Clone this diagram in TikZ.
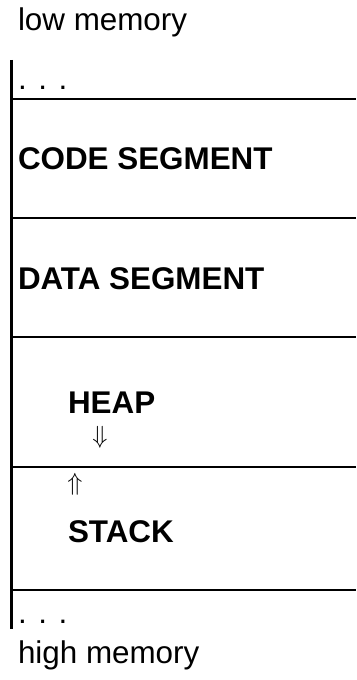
\documentclass[tikz,border=0pt]{standalone}
\usepackage{fontspec}
\setmainfont{Liberation Sans}
\usetikzlibrary{positioning}
\tikzset{
  every node/.append style={inner sep=0pt, outer sep=0pt},
  memtext/.style={anchor=base west, font=\fontsize{31.5}{36}\selectfont},
  segtext/.style={memtext, font=\fontsize{31.5}{36}\selectfont\bfseries},
  growarrow/.style={font=\fontsize{27}{30}\selectfont},
  divider/.style={line width=2bp},
  spine/.style={line width=3bp}
}

\begin{document}
\begin{tikzpicture}[x=1bp, y=-1bp]
\useasboundingbox (0,0) rectangle (356,680);

% Memory column
\draw[spine] (11,60) -- (11,629);
\foreach \y in {99,218,337,467,590}
  \draw[divider] (11,\y) -- (356,\y);

% Labels
\node[memtext] (low) at (18,31) {low memory};
\node[memtext] (dotstop) at (18,90) {. . .};
\node[segtext] (code) at (18,169) {CODE SEGMENT};
\node[segtext] (data) at (18,289) {DATA SEGMENT};
\node[segtext] (heap) at (68,413) {HEAP};
\node[growarrow] (heapdir) at (100,437) {$\Downarrow$};
\node[growarrow] (stackdir) at (75,484) {$\Uparrow$};
\node[segtext] (stack) at (68,542) {STACK};
\node[memtext] (dotsbot) at (18,623) {. . .};
\node[memtext] (high) at (18,663) {high memory};
\end{tikzpicture}
\end{document}
